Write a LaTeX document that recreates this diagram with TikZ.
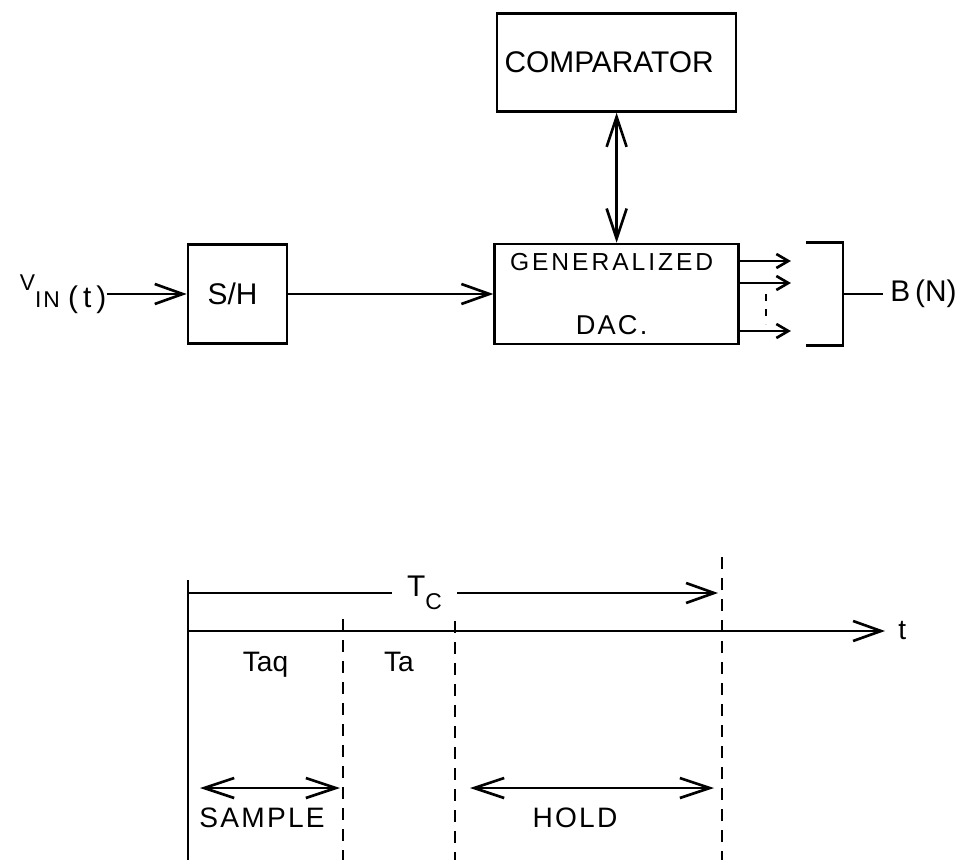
\documentclass[tikz,border=0pt]{standalone}
\usepackage{fontspec}
\setmainfont{Liberation Sans}
\newfontfamily\spacedfont[LetterSpace=12]{Liberation Sans}
\newfontfamily\widefont[LetterSpace=8]{Liberation Sans}
\usepackage{tikz}
\usetikzlibrary{positioning,arrows.meta,calc}
\tikzset{
  blk/.style={draw,line width=1.5pt,align=center,inner sep=0pt,font=\fontsize{17}{20}\selectfont},
  io/.style={inner sep=0pt,font=\fontsize{17}{20}\selectfont},
  tlab/.style={inner sep=0pt,font=\fontsize{16}{19}\selectfont},
  ar/.style={-{Straight Barb[length=5.6mm,width=4mm]},line width=1.5pt},
  dar/.style={{Straight Barb[length=6mm,width=4mm]}-{Straight Barb[length=6mm,width=4mm]},line width=1.5pt},
  sar/.style={-{Straight Barb[length=2.4mm,width=2.8mm]},line width=1.5pt},
  dsh/.style={line width=1.5pt,dash pattern=on 2.4mm off 1.8mm},
}
\begin{document}
\begin{tikzpicture}
  \useasboundingbox (0,0) rectangle (19.3,-17.32);
  % block diagram
  \node[blk,minimum width=19.8mm,minimum height=19.8mm] (sh) at (4.75,-5.88) {\hspace*{-2mm}S/H};
  \node[blk,minimum width=48.8mm,minimum height=20mm,right=41mm of sh] (dac)
    {\hspace*{-2mm}{\spacedfont\fontsize{14}{16}\selectfont GENERALIZED}\\[5.6mm]\hspace*{-2mm}{\widefont\fontsize{15.5}{18}\selectfont DAC.}};
  \node[blk,minimum width=47.8mm,minimum height=19.6mm,above=26mm of dac] (cmp) {\hspace*{-3mm}COMPARATOR};
  \node[io,left=16mm of sh] (vin) {{\widefont\fontsize{13}{15}\selectfont\raisebox{3.4mm}{V}IN}\;(\,t\,)};
  \node[io,right=30mm of dac] (bn) {B\,(N)};
  % arrows
  \draw[ar] (vin) -- (sh);
  \draw[ar] (sh) -- (dac);
  \draw[dar] (cmp) -- (dac);
  % outputs and bracket
  \foreach \dy [count=\i] in {6.6,2.2,-7.4} {
    \coordinate (o\i) at ($(dac.east)+(0,\dy mm)$);
    \coordinate (e\i) at ($(o\i)+(10.2mm,0)$);
    \draw[sar] (o\i) -- (e\i);
  }
  \draw[line width=1.5pt,dash pattern=on 1.3mm off 1.7mm] ($(dac.east)+(5.2mm,0)$) -- ($(dac.east)+(5.2mm,-6mm)$);
  \coordinate (bk) at ($(dac.east)+(20.6mm,0)$);
  \draw[line width=1.5pt] ($(dac.north east)+(13.2mm,0)$) -| ($(dac.south east)+(20.6mm,0)$) -- ($(dac.south east)+(13.2mm,0)$);
  \draw[line width=1.5pt] (bk) -- ($(bn.west)+(-1.4mm,0)$);
  % timing
  \coordinate (o) at (3.76,-12.62);
  \coordinate (tq) at (6.86,-12.62);
  \coordinate (ta) at (9.10,-12.62);
  \coordinate (tc) at (14.44,-12.62);
  \coordinate (tx) at (17.70,-12.62);
  \draw[line width=1.5pt] ($(o)+(0,1.02)$) -- ($(o)+(0,-4.58)$);
  \draw[ar] (o) -- (tx);
  \node[tlab,right=2.6mm of tx] (t) {t};
  \draw[dsh] ($(tq)+(0,0.24)$) -- ($(tq)+(0,-4.58)$);
  \draw[dsh] ($(ta)+(0,0.2)$) -- ($(ta)+(0,-4.58)$);
  \draw[dsh] ($(tc)+(0,1.48)$) -- ($(tc)+(0,-4.58)$);
  \draw[ar] ($(o)+(0,0.76)$) -- ($(tc)+(-0.08,0.76)$)
    node[tlab,pos=0.446,fill=white,minimum width=13mm,minimum height=6mm] (tcl) {\fontsize{17}{20}\selectfont T\raisebox{-2.6mm}{\fontsize{13}{15}\selectfont C}};
  \node[tlab,anchor=base] (taq) at ($(o)!0.5!(tq)+(0,-0.8)$) {Taq};
  \node[tlab,anchor=base] (tal) at ($(tq)!0.5!(ta)+(0,-0.8)$) {Ta};
  \coordinate (s1) at ($(o)+(0.24,-3.14)$);
  \coordinate (s2) at ($(tq)+(-0.06,-3.14)$);
  \coordinate (h1) at ($(ta)+(0.3,-3.14)$);
  \coordinate (h2) at ($(tc)+(-0.16,-3.14)$);
  \draw[dar] (s1) -- (s2);
  \draw[dar] (h1) -- (h2);
  \node[tlab,anchor=base] (smp) at (5.24,-16.54) {\widefont SAMPLE};
  \node[tlab,anchor=base] (hld) at (11.5,-16.54) {\widefont HOLD};
\end{tikzpicture}
\end{document}
